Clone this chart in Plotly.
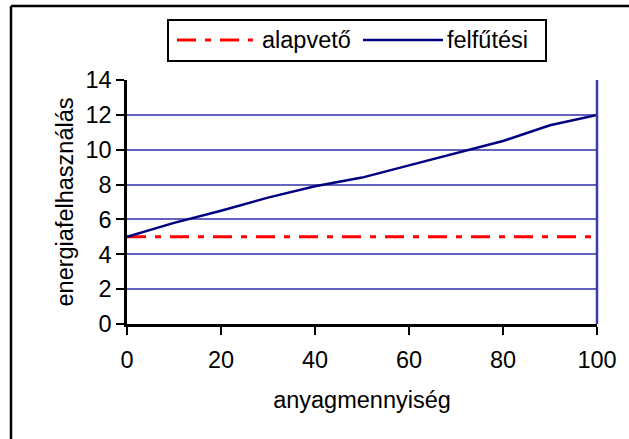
import plotly.graph_objects as go

x_vals = [0, 10, 20, 30, 40, 50, 60, 70, 80, 90, 100]
alapveto = [5, 5, 5, 5, 5, 5, 5, 5, 5, 5, 5]
felfutesi = [5, 5.8, 6.5, 7.25, 7.9, 8.4, 9.1, 9.8, 10.5, 11.4, 12]
series_names = ["alapvető", "felfűtési"]
x_title = "anyagmennyiség"
y_title = "energiafelhasználás"

FONT = "Liberation Sans, Arial, sans-serif"
FS = 23.5
RED = "#ff0000"
NAVY = "#000080"
GRID = "#6464bc"

fig = go.Figure()
fig.add_trace(go.Scatter(x=x_vals, y=alapveto, mode="lines", name=series_names[0],
                         line=dict(color=RED, width=3, dash="19px,9px,6px,9px"),
                         showlegend=False))
fig.add_trace(go.Scatter(x=x_vals, y=felfutesi, mode="lines", name=series_names[1],
                         line=dict(color=NAVY, width=2.5), showlegend=False))

fig.update_layout(
    width=629, height=439,
    margin=dict(l=127, r=32, t=80, b=115),
    paper_bgcolor="white", plot_bgcolor="white",
    font=dict(family=FONT, size=FS, color="black"),
    xaxis=dict(range=[0, 100], tickvals=[0, 20, 40, 60, 80, 100],
               showgrid=False, zeroline=False,
               showline=True, linecolor="black", linewidth=2.5,
               ticks="outside", ticklen=8, tickwidth=2, tickcolor="black",
               ticklabelstandoff=5,
               title=dict(text=x_title, standoff=20, font=dict(size=FS))),
    yaxis=dict(range=[0, 14], tickvals=[0, 2, 4, 6, 8, 10, 12, 14],
               showgrid=True, gridcolor=GRID, gridwidth=1.5, zeroline=False,
               showline=True, linecolor="black", linewidth=2.5,
               ticks="outside", ticklen=8, tickwidth=2, tickcolor="black",
               title=dict(text=y_title, standoff=6, font=dict(size=FS))),
)

def px_x(p):
    return (p - 127) / 470.0

def px_y(p):
    return (324 - p) / 244.0

shapes = [
    dict(type="line", xref="paper", yref="paper", x0=1, x1=1, y0=0, y1=1,
         line=dict(color="#3c3ca8", width=2.5)),
    # outer chart border: top and left edges (right and bottom are cropped away)
    dict(type="line", xref="paper", yref="paper",
         x0=px_x(11), x1=px_x(640), y0=px_y(6), y1=px_y(6),
         line=dict(color="black", width=2.5)),
    dict(type="line", xref="paper", yref="paper",
         x0=px_x(11), x1=px_x(11), y0=px_y(6), y1=px_y(460),
         line=dict(color="black", width=2.5)),
    dict(type="rect", xref="paper", yref="paper",
         x0=px_x(168), x1=px_x(546), y0=px_y(61), y1=px_y(20),
         line=dict(color="black", width=2), fillcolor="white"),
    dict(type="line", xref="paper", yref="paper",
         x0=px_x(177), x1=px_x(253), y0=px_y(40), y1=px_y(40),
         line=dict(color=RED, width=3, dash="19px,9px,6px,9px")),
    dict(type="line", xref="paper", yref="paper",
         x0=px_x(363), x1=px_x(443), y0=px_y(40), y1=px_y(40),
         line=dict(color=NAVY, width=2.5)),
]
annotations = [
    dict(text=series_names[0], xref="paper", yref="paper", x=px_x(260), y=px_y(40),
         xanchor="left", yanchor="middle", showarrow=False, font=dict(size=FS)),
    dict(text=series_names[1], xref="paper", yref="paper", x=px_x(445), y=px_y(40),
         xanchor="left", yanchor="middle", showarrow=False, font=dict(size=FS)),
]
fig.update_layout(shapes=shapes, annotations=annotations)

# remove the default 8px page margin so the figure fills the window exactly
fig.write_html("out.html",
               config={"displayModeBar": False},
               post_script="document.body.style.margin='0';document.body.style.overflow='hidden';")
